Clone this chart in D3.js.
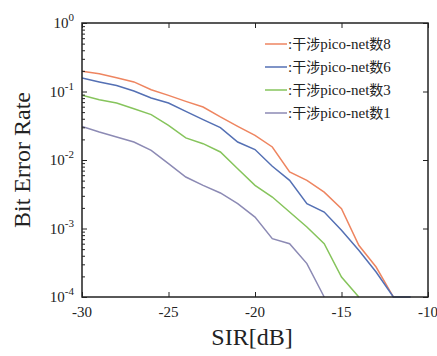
<!DOCTYPE html>
<html>
<head>
<meta charset="utf-8">
<script src="https://cdn.jsdelivr.net/npm/d3@7"></script>
<style>
  body { margin: 0; background: #fff; }
  text { font-family: "Liberation Serif", "Times New Roman", serif; fill: #222; }
  .cjk { font-family: "Noto Sans CJK SC", sans-serif; }
</style>
</head>
<body>
<div id="chart"></div>
<script>
// SIR values (dB)
const sir = [-30, -29, -28, -27, -26, -25, -24, -23, -22, -21, -20, -19, -18, -17, -16, -15, -14, -13, -12, -11];

// BER per number of interfering pico-nets
const berNet8 = [0.197, 0.182, 0.159, 0.138, 0.106, 0.0879, 0.0718, 0.0594, 0.0425, 0.031, 0.0229, 0.0155,
  0.00668, 0.00505, 0.0034, 0.00195, 0.000568, 0.000274, 0.0001];
const berNet6 = [0.157, 0.138, 0.122, 0.1017, 0.0804, 0.0679, 0.0513, 0.0388, 0.0297, 0.0183, 0.0142, 0.0081,
  0.00505, 0.0023, 0.00174, 0.00094, 0.00048, 0.000232, 0.0001, 0.0001];
const berNet3 = [0.0879, 0.076, 0.0679, 0.0561, 0.0459, 0.0321, 0.021, 0.0173, 0.0131, 0.00747, 0.00427, 0.00288,
  0.00174, 0.00105, 0.0006, 0.000196, 0.0001];
const berNet1 = [0.031, 0.0256, 0.0217, 0.0183, 0.0138, 0.00883, 0.00565, 0.00427, 0.0033, 0.0023, 0.00147,
  0.00071, 0.0006, 0.000307, 0.0001];

const netCounts = ["8", "6", "3", "1"];
const seriesColors = ["#ee8560", "#5470b4", "#86c45c", "#8c8ab4"];
const xTicks = [-30, -25, -20, -15, -10];
const yExponents = [0, -1, -2, -3, -4];

const margin = { top: 23, right: 9, bottom: 59, left: 82 };
const width = 437 - margin.left - margin.right;
const height = 356 - margin.top - margin.bottom;

const svg = d3.select("#chart").append("svg")
  .attr("width", 437)
  .attr("height", 356);

const g = svg.append("g")
  .attr("transform", `translate(${margin.left},${margin.top})`);

const x = d3.scaleLinear().domain([-30, -10]).range([0, width]);
const y = d3.scaleLog().domain([1e-4, 1]).range([height, 0]);

g.append("clipPath").attr("id", "clip")
  .append("rect").attr("width", width).attr("height", height + 1);

// lines
const line = d3.line()
  .x(d => x(d[0]))
  .y(d => y(d[1]));

const allSeries = [berNet8, berNet6, berNet3, berNet1];
allSeries.forEach((vals, i) => {
  g.append("path")
    .datum(vals.map((v, j) => [sir[j], v]))
    .attr("clip-path", "url(#clip)")
    .attr("fill", "none")
    .attr("stroke", seriesColors[i])
    .attr("stroke-width", 1.5)
    .attr("d", line);
});

// axes with inward ticks
const minorTicks = [];
yExponents.slice(0, -1).forEach(e => {
  for (let k = 2; k < 10; k++) minorTicks.push(k * Math.pow(10, e - 1));
});

g.append("g")
  .call(d3.axisBottom(x).tickValues(xTicks).tickSize(-5).tickFormat(""))
  .attr("transform", `translate(0,${height})`);
g.append("g")
  .call(d3.axisTop(x).tickValues(xTicks).tickSize(-5).tickFormat(""));
g.append("g")
  .call(d3.axisLeft(y).tickValues(yExponents.map(e => Math.pow(10, e))).tickSize(-5).tickFormat(""));
g.append("g")
  .call(d3.axisLeft(y).tickValues(minorTicks).tickSize(-3).tickFormat(""));
g.append("g")
  .attr("transform", `translate(${width},0)`)
  .call(d3.axisRight(y).tickValues(yExponents.map(e => Math.pow(10, e))).tickSize(-5).tickFormat(""));
g.selectAll(".domain").remove();
g.selectAll(".tick line").attr("stroke", "#222");

g.append("rect")
  .attr("width", width)
  .attr("height", height)
  .attr("fill", "none")
  .attr("stroke", "#222")
  .attr("stroke-width", 1.5);

// tick labels
xTicks.forEach(t => {
  g.append("text")
    .attr("x", x(t))
    .attr("y", height + 20)
    .attr("text-anchor", "middle")
    .style("font-size", "15px")
    .text(t);
});

yExponents.forEach(e => {
  const lab = g.append("text")
    .attr("x", -8)
    .attr("y", y(Math.pow(10, e)) + 5)
    .attr("text-anchor", "end")
    .style("font-size", "15px");
  lab.append("tspan").text("10");
  lab.append("tspan")
    .attr("dy", -7)
    .style("font-size", "11px")
    .text(e);
});

// axis titles
svg.append("text")
  .attr("x", margin.left + width / 2 - 3)
  .attr("y", 345)
  .attr("text-anchor", "middle")
  .style("font-size", "24px")
  .text("SIR[dB]");

svg.append("text")
  .attr("transform", `translate(30,${margin.top + height / 2}) rotate(-90)`)
  .attr("text-anchor", "middle")
  .style("font-size", "24px")
  .text("Bit Error Rate");

// legend
const legend = g.append("g")
  .attr("transform", `translate(${183},${21})`);

netCounts.forEach((n, i) => {
  const row = legend.append("g")
    .attr("transform", `translate(0,${i * 23})`);
  row.append("line")
    .attr("x1", 0).attr("x2", 22)
    .attr("stroke", seriesColors[i])
    .attr("stroke-width", 1.5);
  const t = row.append("text")
    .attr("x", 23)
    .attr("y", 5)
    .style("font-size", "15px");
  t.append("tspan").text(":");
  t.append("tspan").attr("class", "cjk").style("font-size", "14px").text("干涉");
  t.append("tspan").text("pico-net");
  t.append("tspan").attr("class", "cjk").style("font-size", "14px").text("数");
  t.append("tspan").text(n);
});
</script>
</body>
</html>
